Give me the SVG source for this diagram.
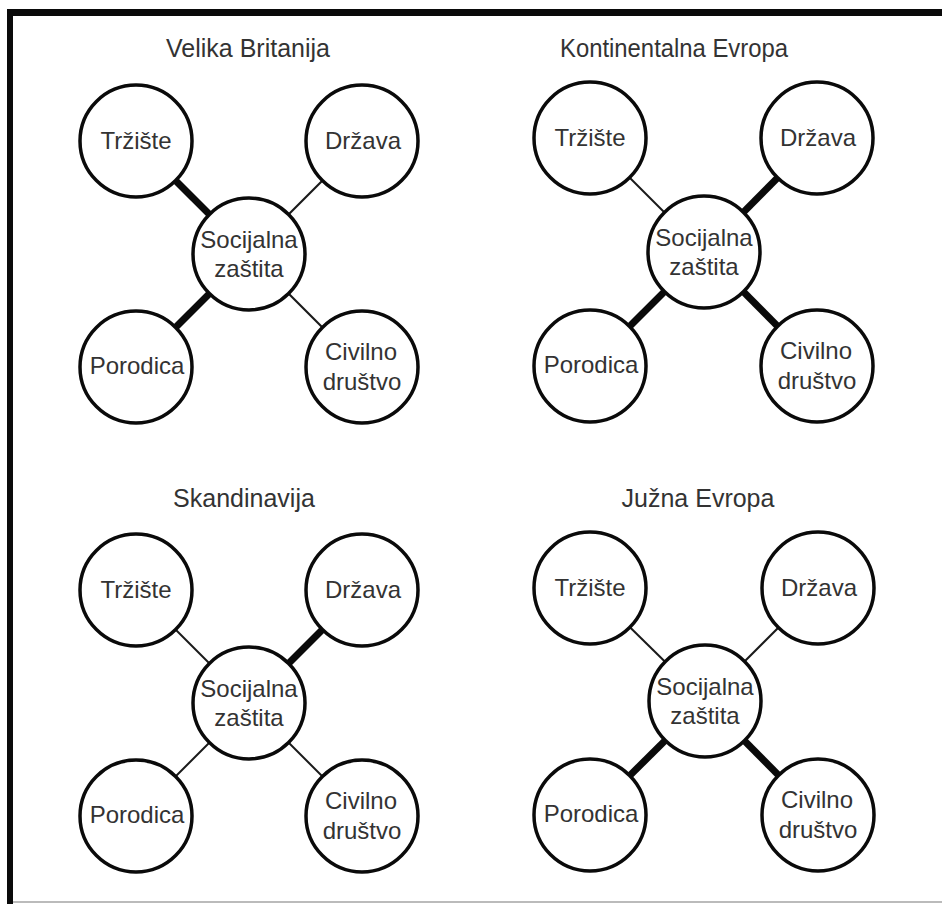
<svg xmlns="http://www.w3.org/2000/svg" width="942" height="904" viewBox="0 0 942 904">
<style>
.frame{fill:#0a0a0a}
.c{fill:#fff;stroke:#0a0a0a;stroke-width:3.5}
.thin{stroke:#1a1a1a;stroke-width:2}
.thick{stroke:#0a0a0a;stroke-width:7}
.t{font-family:"Liberation Sans",Arial,sans-serif;font-size:24px;fill:#333;text-anchor:middle}
.h{font-family:"Liberation Sans",Arial,sans-serif;font-size:25px;fill:#333;text-anchor:middle}
</style>
<rect x="0" y="0" width="942" height="904" fill="#fff"/>
<g id="frame">
<rect class="frame" x="7" y="9" width="935" height="7"/>
<rect class="frame" x="7" y="9" width="6" height="895"/>
<rect x="13" y="901" width="929" height="2" fill="#bbb"/>
</g>
<g id="connectors">
<!-- Panel 1: Velika Britanija center (249,254) -->
<line class="thick" x1="249" y1="254" x2="136" y2="141"/>
<line class="thin" x1="249" y1="254" x2="362" y2="141"/>
<line class="thick" x1="249" y1="254" x2="136" y2="367"/>
<line class="thin" x1="249" y1="254" x2="362" y2="367"/>
<!-- Panel 2: Kontinentalna Evropa center (704,252) -->
<line class="thin" x1="704" y1="252" x2="590" y2="138"/>
<line class="thick" x1="704" y1="252" x2="817" y2="138"/>
<line class="thick" x1="704" y1="252" x2="590" y2="366"/>
<line class="thick" x1="704" y1="252" x2="817" y2="366"/>
<!-- Panel 3: Skandinavija center (249,703) -->
<line class="thin" x1="249" y1="703" x2="136" y2="590"/>
<line class="thick" x1="249" y1="703" x2="362" y2="590"/>
<line class="thin" x1="249" y1="703" x2="136" y2="816"/>
<line class="thin" x1="249" y1="703" x2="362" y2="816"/>
<!-- Panel 4: Juzna Evropa center (705,701) -->
<line class="thin" x1="705" y1="701" x2="590" y2="588"/>
<line class="thin" x1="705" y1="701" x2="818" y2="588"/>
<line class="thick" x1="705" y1="701" x2="590" y2="815"/>
<line class="thick" x1="705" y1="701" x2="818" y2="815"/>
</g>
<g id="p1">
<text class="h" x="248" y="57">Velika Britanija</text>
<g id="p1-trziste"><circle class="c" cx="136" cy="141" r="56"/><text class="t" x="136" y="149">Tržište</text></g>
<g id="p1-drzava"><circle class="c" cx="362" cy="141" r="56"/><text class="t" x="363" y="149">Država</text></g>
<g id="p1-center"><circle class="c" cx="249" cy="254" r="56"/><text class="t" x="249" y="248">Socijalna</text><text class="t" x="249" y="277">zaštita</text></g>
<g id="p1-porodica"><circle class="c" cx="136" cy="367" r="56"/><text class="t" x="137" y="374">Porodica</text></g>
<g id="p1-civilno"><circle class="c" cx="362" cy="367" r="56"/><text class="t" x="361" y="360">Civilno</text><text class="t" x="362" y="390">društvo</text></g>
</g>
<g id="p2">
<text class="h" x="674" y="57" textLength="228" lengthAdjust="spacingAndGlyphs">Kontinentalna Evropa</text>
<g id="p2-trziste"><circle class="c" cx="590" cy="138" r="56"/><text class="t" x="590" y="146">Tržište</text></g>
<g id="p2-drzava"><circle class="c" cx="817" cy="138" r="56"/><text class="t" x="818" y="146">Država</text></g>
<g id="p2-center"><circle class="c" cx="704" cy="252" r="56"/><text class="t" x="704" y="246">Socijalna</text><text class="t" x="704" y="275">zaštita</text></g>
<g id="p2-porodica"><circle class="c" cx="590" cy="366" r="56"/><text class="t" x="591" y="373">Porodica</text></g>
<g id="p2-civilno"><circle class="c" cx="817" cy="366" r="56"/><text class="t" x="816" y="359">Civilno</text><text class="t" x="817" y="389">društvo</text></g>
</g>
<g id="p3">
<text class="h" x="244" y="507">Skandinavija</text>
<g id="p3-trziste"><circle class="c" cx="136" cy="590" r="56"/><text class="t" x="136" y="598">Tržište</text></g>
<g id="p3-drzava"><circle class="c" cx="362" cy="590" r="56"/><text class="t" x="363" y="598">Država</text></g>
<g id="p3-center"><circle class="c" cx="249" cy="703" r="56"/><text class="t" x="249" y="697">Socijalna</text><text class="t" x="249" y="726">zaštita</text></g>
<g id="p3-porodica"><circle class="c" cx="136" cy="816" r="56"/><text class="t" x="137" y="823">Porodica</text></g>
<g id="p3-civilno"><circle class="c" cx="362" cy="816" r="56"/><text class="t" x="361" y="809">Civilno</text><text class="t" x="362" y="839">društvo</text></g>
</g>
<g id="p4">
<text class="h" x="698" y="507">Južna Evropa</text>
<g id="p4-trziste"><circle class="c" cx="590" cy="588" r="56"/><text class="t" x="590" y="596">Tržište</text></g>
<g id="p4-drzava"><circle class="c" cx="818" cy="588" r="56"/><text class="t" x="819" y="596">Država</text></g>
<g id="p4-center"><circle class="c" cx="705" cy="701" r="56"/><text class="t" x="705" y="695">Socijalna</text><text class="t" x="705" y="724">zaštita</text></g>
<g id="p4-porodica"><circle class="c" cx="590" cy="815" r="56"/><text class="t" x="591" y="822">Porodica</text></g>
<g id="p4-civilno"><circle class="c" cx="818" cy="815" r="56"/><text class="t" x="817" y="808">Civilno</text><text class="t" x="818" y="838">društvo</text></g>
</g>
</svg>
